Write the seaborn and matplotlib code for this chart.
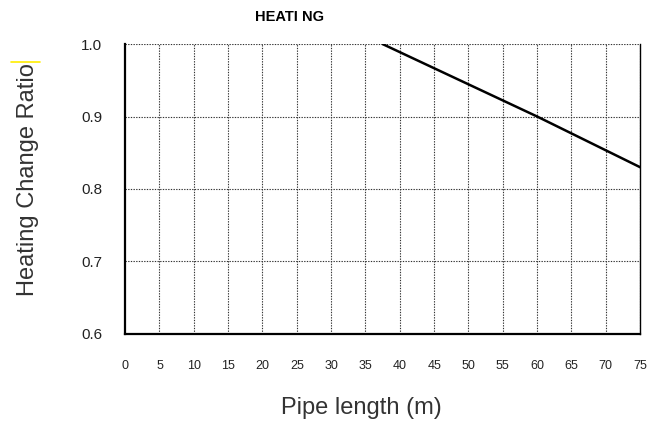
import matplotlib
matplotlib.use("Agg")
import matplotlib.pyplot as plt
import seaborn as sns
import pandas as pd

# data
pipe_length = [37.5, 60, 75]
change_ratio = [1.0, 0.9, 0.83]
x_ticks = list(range(0, 80, 5))
y_ticks = [0.6, 0.7, 0.8, 0.9, 1.0]
y_tick_labels = ["0.6", "0.7", "0.8", "0.9", "1.0"]

sns.set_style("white")
plt.rcParams['font.family'] = ['Liberation Sans', 'DejaVu Sans']

df = pd.DataFrame({"length": pipe_length, "ratio": change_ratio})

fig = plt.figure(figsize=(6.62, 4.28), dpi=100)
ax = fig.add_axes([0.189, 0.220, 0.778, 0.677])

# dotted grid
for x in x_ticks[1:]:
    ax.axvline(x, color="#333333", lw=0.8, ls=(0, (1.2, 1.2)), zorder=1)
for y in y_ticks[1:]:
    ax.axhline(y, color="#333333", lw=0.8, ls=(0, (1.2, 1.2)), zorder=1)

sns.lineplot(data=df, x="length", y="ratio", color="black", lw=1.8, ax=ax, zorder=3)

ax.set_xlim(0, 75)
ax.set_ylim(0.6, 1.0)
ax.set_xticks(x_ticks)
ax.set_xticklabels([str(v) for v in x_ticks], fontsize=9, color="#222222")
ax.set_yticks(y_ticks)
ax.set_yticklabels(y_tick_labels, fontsize=11, color="#222222")
ax.tick_params(axis="both", direction="inout", length=9, width=1.3, color="black")
ax.tick_params(axis="y", pad=12)
ax.tick_params(axis="x", pad=14)

for side in ["left", "bottom"]:
    ax.spines[side].set_linewidth(1.6)
    ax.spines[side].set_color("black")
ax.spines["right"].set_linewidth(1.0)
ax.spines["right"].set_color("black")
ax.spines["top"].set_visible(False)

ax.set_xlabel("Pipe length (m)", fontsize=17, color="#333333")
ax.set_ylabel("Heating Change Ratio", fontsize=17, color="#333333")
ax.xaxis.label.set_va("center")
ax.yaxis.label.set_va("center")
ax.xaxis.set_label_coords(0.458, -0.255)
ax.yaxis.set_label_coords(-0.188, 0.531)

fig.text(0.437, 0.960, "HEATI NG", fontsize=10.5, fontweight="bold",
         ha="center", va="center", color="black")

# yellow highlight mark next to the label
fig.add_artist(plt.Line2D([0.017, 0.060], [0.855, 0.855], color="#ffee00", lw=1.2))

fig.savefig("out.png", dpi=100)
